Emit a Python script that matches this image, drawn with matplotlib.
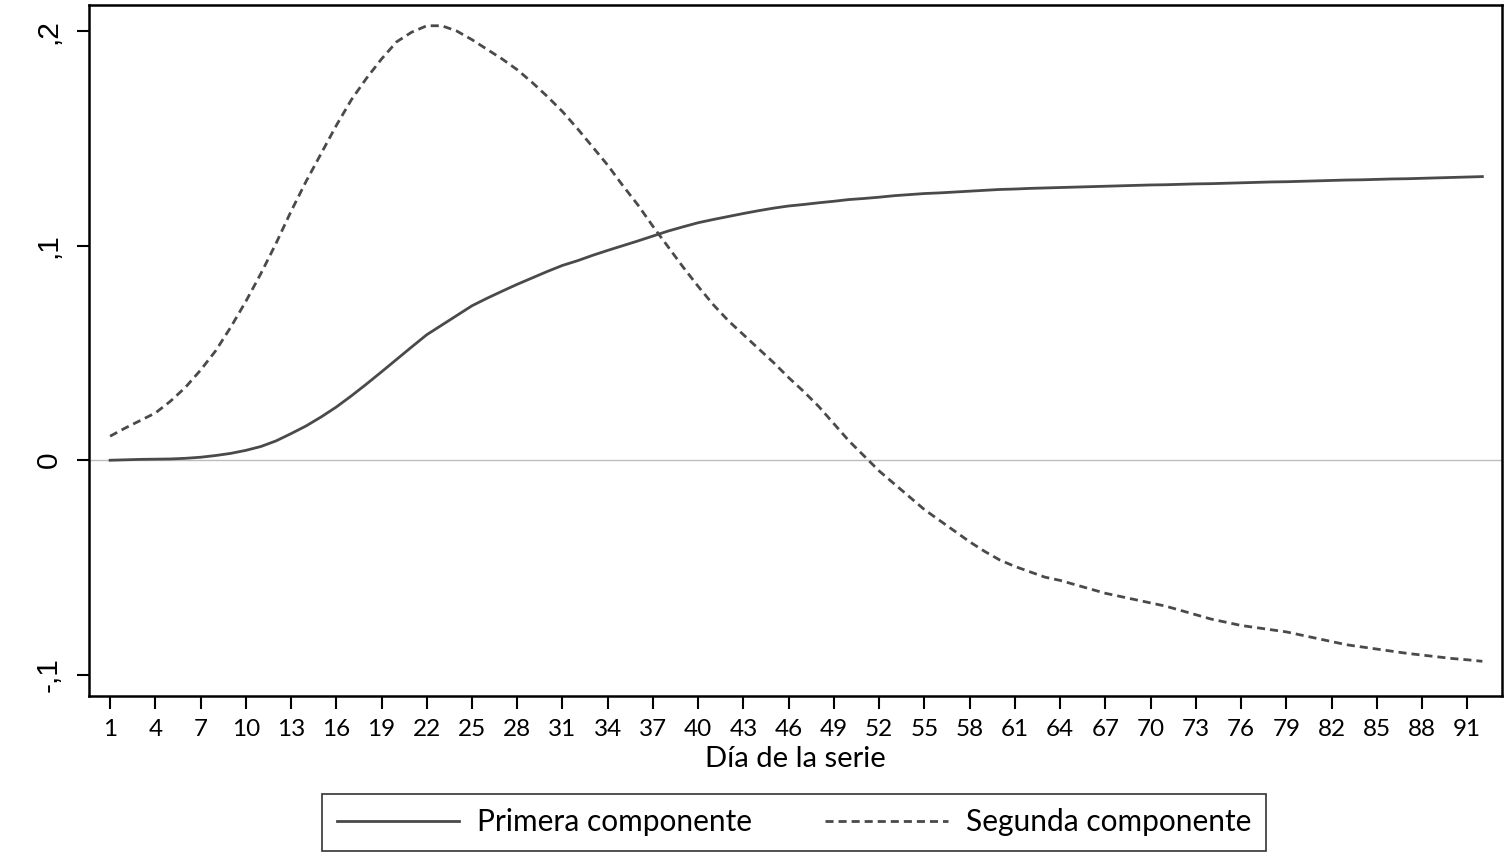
import matplotlib
matplotlib.use("Agg")
import matplotlib.pyplot as plt
from matplotlib.lines import Line2D

dias = list(range(1, 93))

primera = [
    0.0000, 0.0002, 0.0004, 0.0005, 0.0006, 0.0009, 0.0014, 0.0022, 0.0032, 0.0046,
    0.0064, 0.0090, 0.0124, 0.0160, 0.0202, 0.0248, 0.0300, 0.0355, 0.0412, 0.0470,
    0.0528, 0.0585, 0.0630, 0.0675, 0.0720, 0.0755, 0.0788, 0.0820, 0.0850, 0.0880,
    0.0908, 0.0930, 0.0955, 0.0978, 0.1000, 0.1022, 0.1045, 0.1068, 0.1088, 0.1107,
    0.1122, 0.1136, 0.1150, 0.1163, 0.1175, 0.1185, 0.1192, 0.1200, 0.1207, 0.1215,
    0.1220, 0.1226, 0.1233, 0.1238, 0.1243, 0.1246, 0.1250, 0.1254, 0.1258, 0.1262,
    0.1264, 0.1267, 0.1269, 0.1271, 0.1273, 0.1275, 0.1277, 0.1279, 0.1281, 0.1283,
    0.1284, 0.1286, 0.1288, 0.1289, 0.1291, 0.1293, 0.1295, 0.1297, 0.1298, 0.1300,
    0.1302, 0.1304, 0.1306, 0.1307, 0.1309, 0.1311, 0.1312, 0.1314, 0.1316, 0.1318,
    0.1320, 0.1322,
]

segunda = [
    0.0112, 0.0150, 0.0185, 0.0220, 0.0275, 0.0340, 0.0420, 0.0510, 0.0620, 0.0740,
    0.0870, 0.1010, 0.1160, 0.1300, 0.1430, 0.1560, 0.1680, 0.1780, 0.1870, 0.1950,
    0.1995, 0.2025, 0.2025, 0.2000, 0.1960, 0.1915, 0.1870, 0.1820, 0.1760, 0.1695,
    0.1625, 0.1545, 0.1460, 0.1375, 0.1280, 0.1190, 0.1090, 0.0995, 0.0900, 0.0810,
    0.0725, 0.0650, 0.0585, 0.0520, 0.0455, 0.0385, 0.0320, 0.0250, 0.0170, 0.0090,
    0.0020, -0.0050, -0.0110, -0.0170, -0.0230, -0.0280, -0.0330, -0.0380, -0.0425, -0.0465,
    -0.0495, -0.0520, -0.0545, -0.0560, -0.0580, -0.0600, -0.0620, -0.0635, -0.0650, -0.0665,
    -0.0680, -0.0700, -0.0720, -0.0740, -0.0755, -0.0770, -0.0780, -0.0790, -0.0800, -0.0815,
    -0.0830, -0.0845, -0.0860, -0.0870, -0.0880, -0.0890, -0.0900, -0.0908, -0.0916, -0.0924,
    -0.0930, -0.0937,
]

xticks = list(range(1, 92, 3))
yticks = [-0.1, 0.0, 0.1, 0.2]
ytick_labels = ["-,1", "0", ",1", ",2"]
series_labels = ["Primera componente", "Segunda componente"]

txt_font = ["Lato", "DejaVu Sans"]
line_col = "#4a4a4a"
dash = (2.9, 1.8)

fig = plt.figure(figsize=(15.08, 8.58), dpi=100)
ax = fig.add_axes([0.059, 0.189, 0.937, 0.805])

ax.axhline(0, color="#bdbdbd", lw=1.0, zorder=1)
ax.plot(dias, primera, color=line_col, lw=2.0, zorder=3)
ax.plot(dias, segunda, color=line_col, lw=2.0, dashes=dash, zorder=3)

ax.set_xlim(-0.4, 93.3)
ax.set_ylim(-0.1098, 0.2121)

ax.set_xticks(xticks)
ax.set_xticklabels([str(t) for t in xticks], family=txt_font, fontsize=17.5)
ax.set_yticks(yticks)
ax.set_yticklabels(ytick_labels, family=["Liberation Sans", "DejaVu Sans"], fontsize=21.5,
                   rotation=90, va="center")
ax.tick_params(axis="both", direction="out", length=9, width=1.5, color="black")
ax.tick_params(axis="x", pad=8)
ax.tick_params(axis="y", pad=10)

for s in ax.spines.values():
    s.set_linewidth(1.8)
    s.set_color("black")

ax.set_xlabel("Día de la serie", family=txt_font, fontsize=21, labelpad=4)

handles = [
    Line2D([0], [0], color=line_col, lw=2.0),
    Line2D([0], [0], color=line_col, lw=2.0, dashes=dash),
]
leg = fig.legend(handles, series_labels, loc="center", ncol=2,
                 bbox_to_anchor=(0.5265, 0.0414), frameon=True, fancybox=False,
                 prop={"family": txt_font, "size": 21.5}, handlelength=4.1,
                 columnspacing=2.45, borderpad=0.5, handletextpad=0.6,
                 borderaxespad=0)
leg.get_frame().set_edgecolor("black")
leg.get_frame().set_linewidth(1.2)

fig.savefig("out.png", dpi=100)
